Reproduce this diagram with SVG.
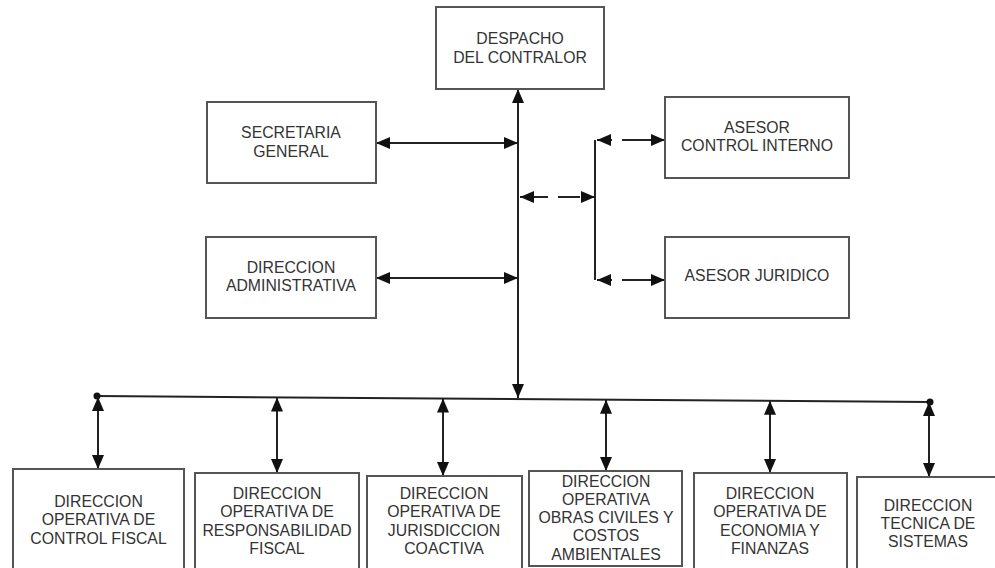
<svg xmlns="http://www.w3.org/2000/svg" width="995" height="568" viewBox="0 0 995 568">
<style>
.box{fill:#fff;stroke:#555;stroke-width:2}
.t{font-family:"Liberation Sans",Arial,sans-serif;font-size:15.8px;fill:#333;text-anchor:middle}
.ln{stroke:#222;stroke-width:2;fill:none}
.dash{stroke:#222;stroke-width:2;fill:none;stroke-dasharray:15 10 100}
.dashm{stroke:#222;stroke-width:2;fill:none;stroke-dasharray:28 10 22 3 20}
</style>
<defs>
<marker id="ah" viewBox="0 0 14 12" refX="14" refY="6" markerWidth="14" markerHeight="12" markerUnits="userSpaceOnUse" orient="auto-start-reverse">
<path d="M0,0 L14,6 L0,12 Z" fill="#111"/>
</marker>
</defs>
<rect width="995" height="568" fill="#fff"/>
<g id="connectors">
<line class="ln" x1="518" y1="89" x2="518" y2="398" marker-start="url(#ah)" marker-end="url(#ah)"/>
<line class="ln" x1="376" y1="143" x2="518" y2="143" marker-start="url(#ah)" marker-end="url(#ah)"/>
<line class="ln" x1="376" y1="278" x2="518" y2="278" marker-start="url(#ah)" marker-end="url(#ah)"/>
<line class="dashm" x1="520" y1="197" x2="595" y2="197" marker-start="url(#ah)" marker-end="url(#ah)"/>
<line class="ln" x1="595" y1="140" x2="595" y2="280"/>
<line class="dash" x1="597" y1="140" x2="665" y2="140" marker-start="url(#ah)" marker-end="url(#ah)"/>
<line class="dash" x1="597" y1="280" x2="665" y2="280" marker-start="url(#ah)" marker-end="url(#ah)"/>
<line class="ln" x1="97" y1="396" x2="930" y2="402"/>
<circle cx="97" cy="396" r="3.5" fill="#111"/>
<circle cx="930" cy="402" r="3.5" fill="#111"/>
<line class="ln" x1="98" y1="397" x2="98" y2="469" marker-start="url(#ah)" marker-end="url(#ah)"/>
<line class="ln" x1="277" y1="397.5" x2="277" y2="473" marker-start="url(#ah)" marker-end="url(#ah)"/>
<line class="ln" x1="443" y1="398.5" x2="443" y2="476" marker-start="url(#ah)" marker-end="url(#ah)"/>
<line class="ln" x1="606" y1="399.7" x2="606" y2="471" marker-start="url(#ah)" marker-end="url(#ah)"/>
<line class="ln" x1="770" y1="400.8" x2="770" y2="473" marker-start="url(#ah)" marker-end="url(#ah)"/>
<line class="ln" x1="929" y1="402" x2="929" y2="477" marker-start="url(#ah)" marker-end="url(#ah)"/>
</g>
<g id="despacho">
<rect class="box" x="436" y="7" width="168" height="82"/>
<text class="t" x="520" y="43.5">DESPACHO</text>
<text class="t" x="520" y="62.5">DEL CONTRALOR</text>
</g>
<g id="secretaria">
<rect class="box" x="207" y="102" width="169" height="81"/>
<text class="t" x="291" y="137.5">SECRETARIA</text>
<text class="t" x="291" y="156.5">GENERAL</text>
</g>
<g id="admin">
<rect class="box" x="206" y="237" width="170" height="81"/>
<text class="t" x="291" y="272.5">DIRECCION</text>
<text class="t" x="291" y="290.5">ADMINISTRATIVA</text>
</g>
<g id="control-interno">
<rect class="box" x="665" y="97" width="184" height="81"/>
<text class="t" x="757" y="132.5">ASESOR</text>
<text class="t" x="757" y="150.5">CONTROL INTERNO</text>
</g>
<g id="juridico">
<rect class="box" x="665" y="237" width="184" height="81"/>
<text class="t" x="757" y="280.5">ASESOR JURIDICO</text>
</g>
<g id="control-fiscal">
<rect class="box" x="13" y="469" width="171" height="110"/>
<text class="t" x="98.5" y="506.5">DIRECCION</text>
<text class="t" x="98.5" y="525">OPERATIVA DE</text>
<text class="t" x="98.5" y="543.5">CONTROL FISCAL</text>
</g>
<g id="responsabilidad">
<rect class="box" x="195" y="473" width="164" height="110"/>
<text class="t" x="277" y="498.5">DIRECCION</text>
<text class="t" x="277" y="517">OPERATIVA DE</text>
<text class="t" x="277" y="535.5">RESPONSABILIDAD</text>
<text class="t" x="277" y="554">FISCAL</text>
</g>
<g id="jurisdiccion">
<rect class="box" x="367" y="476" width="155" height="110"/>
<text class="t" x="444" y="498.5">DIRECCION</text>
<text class="t" x="444" y="517">OPERATIVA DE</text>
<text class="t" x="444" y="535.5">JURISDICCION</text>
<text class="t" x="444" y="554">COACTIVA</text>
</g>
<g id="obras">
<rect class="box" x="529" y="471" width="153" height="95"/>
<text class="t" x="606" y="486.5">DIRECCION</text>
<text class="t" x="606" y="504.5">OPERATIVA</text>
<text class="t" x="606" y="522.5">OBRAS CIVILES Y</text>
<text class="t" x="606" y="541">COSTOS</text>
<text class="t" x="606" y="559.5">AMBIENTALES</text>
</g>
<g id="economia">
<rect class="box" x="694" y="473" width="153" height="110"/>
<text class="t" x="770" y="498.5">DIRECCION</text>
<text class="t" x="770" y="517">OPERATIVA DE</text>
<text class="t" x="770" y="535.5">ECONOMIA Y</text>
<text class="t" x="770" y="554">FINANZAS</text>
</g>
<g id="sistemas">
<rect class="box" x="857" y="477" width="150" height="110"/>
<text class="t" x="928" y="510.5">DIRECCION</text>
<text class="t" x="928" y="528.5">TECNICA DE</text>
<text class="t" x="928" y="546.5">SISTEMAS</text>
</g>
</svg>
